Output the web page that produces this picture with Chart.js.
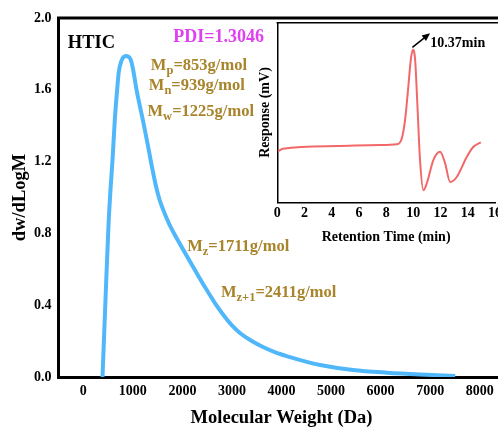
<!DOCTYPE html>
<html>
<head>
<meta charset="utf-8">
<script src="https://cdn.jsdelivr.net/npm/chart.js@4.4.0/dist/chart.umd.min.js"></script>
<style>
html, body { margin: 0; padding: 0; background: #fff; overflow: hidden; width: 498px; height: 432px; }
#main { position: absolute; left: 0; top: 0; }
#inset { position: absolute; left: 240px; top: 0; }
</style>
</head>
<body>
<canvas id="main" width="506" height="432"></canvas>
<canvas id="inset" width="266" height="250"></canvas>
<script>
var FONT = '"Liberation Serif", "Times New Roman", serif';

// molecular weight distribution
var molWeight = [388, 448, 509, 549, 590, 636, 683, 717, 768, 859, 950, 1000, 1075, 1202, 1303, 1374, 1444, 1491, 1541, 1598, 1663, 1735, 1816, 1905, 2020, 2253, 2455, 2657, 2859, 3000, 3162, 3384, 3626, 3889, 4172, 4475, 4778, 5444, 6131, 6798, 7505];
var dwdlogm = [0, 0.429, 0.847, 1.042, 1.209, 1.432, 1.599, 1.70, 1.76, 1.788, 1.772, 1.721, 1.599, 1.432, 1.292, 1.187, 1.092, 1.036, 0.986, 0.942, 0.897, 0.852, 0.808, 0.763, 0.708, 0.596, 0.501, 0.412, 0.334, 0.287, 0.245, 0.203, 0.167, 0.136, 0.111, 0.087, 0.067, 0.039, 0.024, 0.014, 0.006];
var xTicks = [0, 1000, 2000, 3000, 4000, 5000, 6000, 7000, 8000];
var yTicks = [0, 0.4, 0.8, 1.2, 1.6, 2.0];

// inset chromatogram
var retTime = [0.05, 0.4, 4.37, 7.55, 8.78, 9.15, 9.39, 9.63, 9.81, 9.96, 10.13, 10.29, 10.49, 10.74, 10.99, 11.47, 11.96, 12.33, 12.7, 13.19, 13.93, 14.41, 14.96];
var response = [28.4, 29.8, 31.3, 31.9, 32.3, 35.6, 45.8, 64.4, 79.3, 84.9, 79.3, 55.3, 23.5, 6.7, 10.6, 23.5, 28.1, 21.8, 11.3, 14.1, 25.3, 30.9, 33.4];
var rtTicks = [0, 2, 4, 6, 8, 10, 12, 14, 16];

// text notes on the main plot (data units)
var GOLD = '#a8842a';
var notes = [
    { x: -313, y: 1.831, main: 'HTIC', sub: '', rest: '', color: '#000', size: 18.5 },
    { x: 1814, y: 1.865, main: 'PDI=1.3046', sub: '', rest: '', color: '#e040f0', size: 18 },
    { x: 1364, y: 1.710, main: 'M', sub: 'p', rest: '=853g/mol', color: GOLD, size: 16.5 },
    { x: 1323, y: 1.599, main: 'M', sub: 'n', rest: '=939g/mol', color: GOLD, size: 16.5 },
    { x: 1297, y: 1.456, main: 'M', sub: 'w', rest: '=1225g/mol', color: GOLD, size: 16.5 },
    { x: 2097, y: 0.704, main: 'M', sub: 'z', rest: '=1711g/mol', color: GOLD, size: 16.5 },
    { x: 2778, y: 0.447, main: 'M', sub: 'z+1', rest: '=2411g/mol', color: GOLD, size: 16.5 }
];

function drawNote(ctx, px, py, n) {
    ctx.fillStyle = n.color;
    ctx.textBaseline = 'alphabetic';
    ctx.textAlign = 'left';
    ctx.font = 'bold ' + n.size + 'px ' + FONT;
    ctx.fillText(n.main, px, py);
    px += ctx.measureText(n.main).width;
    if (n.sub) {
        ctx.font = 'bold 12.5px ' + FONT;
        ctx.fillText(n.sub, px, py + 4);
        px += ctx.measureText(n.sub).width;
        ctx.font = 'bold ' + n.size + 'px ' + FONT;
        ctx.fillText(n.rest, px, py);
    }
}

var mainDecor = {
    id: 'mainDecor',
    afterDraw: function (chart) {
        var ctx = chart.ctx, a = chart.chartArea;
        ctx.save();
        ctx.strokeStyle = '#000';
        ctx.lineWidth = 3;
        ctx.beginPath();
        ctx.moveTo(a.left - 1.5, a.top);
        ctx.lineTo(chart.width, a.top);
        ctx.stroke();
        var xs = chart.scales.x, ys = chart.scales.y;
        for (var i in notes) {
            drawNote(ctx, xs.getPixelForValue(notes[i].x), ys.getPixelForValue(notes[i].y), notes[i]);
        }
        ctx.restore();
    }
};

new Chart(document.getElementById('main'), {
    type: 'line',
    data: {
        datasets: [{
            data: molWeight.map(function (m, i) { return { x: m, y: dwdlogm[i] }; }),
            borderColor: '#50b8fa',
            borderWidth: 4,
            pointRadius: 0,
            fill: false,
            cubicInterpolationMode: 'monotone'
        }]
    },
    options: {
        responsive: false,
        animation: false,
        layout: { padding: { top: 18, right: 1.5, left: 0, bottom: 0 } },
        plugins: { legend: { display: false }, tooltip: { enabled: false } },
        scales: {
            x: {
                type: 'linear', min: -500, max: 8500,
                afterBuildTicks: function (s) { s.ticks = xTicks.map(function (v) { return { value: v }; }); },
                afterFit: function (s) { s.height = 55; },
                grid: { display: false, drawTicks: false },
                border: { display: true, color: '#000', width: 3 },
                ticks: { autoSkip: false, maxRotation: 0, padding: 6, color: '#000', font: { family: FONT, size: 14, weight: 'bold' }, callback: function (v) { return String(v); } },
                title: { display: true, text: 'Molecular Weight (Da)', color: '#000', padding: { top: 0, bottom: 3 }, font: { family: FONT, size: 18.5, weight: 'bold' } }
            },
            y: {
                min: 0, max: 2.0,
                afterBuildTicks: function (s) { s.ticks = yTicks.map(function (v) { return { value: v }; }); },
                afterFit: function (s) { s.width = 58.5; },
                grid: { display: false, drawTicks: false },
                border: { display: true, color: '#000', width: 3 },
                ticks: { padding: 7, color: '#000', font: { family: FONT, size: 14, weight: 'bold' }, callback: function (v) { return v.toFixed(1); } },
                title: { display: true, text: 'dw/dLogM', color: '#000', padding: { top: 9, bottom: 0 }, font: { family: FONT, size: 18.5, weight: 'bold' } }
            }
        }
    },
    plugins: [mainDecor]
});

var insetDecor = {
    id: 'insetDecor',
    afterDraw: function (chart) {
        var ctx = chart.ctx, a = chart.chartArea;
        var xs = chart.scales.x, ys = chart.scales.y;
        ctx.save();
        ctx.strokeStyle = '#000';
        ctx.lineWidth = 1.5;
        ctx.beginPath();
        ctx.moveTo(a.left - 0.75, a.top);
        ctx.lineTo(chart.width, a.top);
        ctx.stroke();
        // arrow to the peak
        var x1 = xs.getPixelForValue(9.93), y1 = ys.getPixelForValue(86.3);
        var x2 = xs.getPixelForValue(11.23), y2 = ys.getPixelForValue(94.1);
        var ang = Math.atan2(y2 - y1, x2 - x1);
        ctx.beginPath();
        ctx.moveTo(x1, y1);
        ctx.lineTo(x2 - 5 * Math.cos(ang), y2 - 5 * Math.sin(ang));
        ctx.stroke();
        ctx.fillStyle = '#000';
        ctx.beginPath();
        ctx.moveTo(x2, y2);
        ctx.lineTo(x2 - 8 * Math.cos(ang) + 3.5 * Math.sin(ang), y2 - 8 * Math.sin(ang) - 3.5 * Math.cos(ang));
        ctx.lineTo(x2 - 8 * Math.cos(ang) - 3.5 * Math.sin(ang), y2 - 8 * Math.sin(ang) + 3.5 * Math.cos(ang));
        ctx.closePath();
        ctx.fill();
        ctx.font = 'bold 14px ' + FONT;
        ctx.textBaseline = 'alphabetic';
        ctx.fillText('10.37min', xs.getPixelForValue(11.25), ys.getPixelForValue(86.6));
        ctx.restore();
    }
};

new Chart(document.getElementById('inset'), {
    type: 'line',
    data: {
        datasets: [{
            data: retTime.map(function (t, i) { return { x: t, y: response[i] }; }),
            borderColor: '#f26868',
            borderWidth: 2,
            pointRadius: 0,
            fill: false,
            cubicInterpolationMode: 'monotone'
        }]
    },
    options: {
        responsive: false,
        animation: false,
        layout: { padding: { top: 22.7, right: 11, left: 0, bottom: 0 } },
        plugins: { legend: { display: false }, tooltip: { enabled: false } },
        scales: {
            x: {
                type: 'linear', min: 0, max: 16,
                afterBuildTicks: function (s) { s.ticks = rtTicks.map(function (v) { return { value: v }; }); },
                afterFit: function (s) { s.height = 47.7; },
                grid: { display: false, drawTicks: false },
                border: { display: true, color: '#000', width: 1.5 },
                ticks: { autoSkip: false, maxRotation: 0, padding: 3, color: '#000', font: { family: FONT, size: 14, weight: 'bold' } },
                title: { display: true, text: 'Retention Time (min)', color: '#000', padding: { top: 0, bottom: 4 }, font: { family: FONT, size: 14, weight: 'bold' } }
            },
            y: {
                min: 0, max: 100,
                afterFit: function (s) { s.width = 37.3; },
                grid: { display: false, drawTicks: false },
                border: { display: true, color: '#000', width: 1.5 },
                ticks: { display: false },
                title: { display: true, text: 'Response (mV)', color: '#000', padding: { top: 16.6, bottom: 0 }, font: { family: FONT, size: 14, weight: 'bold' } }
            }
        }
    },
    plugins: [insetDecor]
});
</script>
</body>
</html>
